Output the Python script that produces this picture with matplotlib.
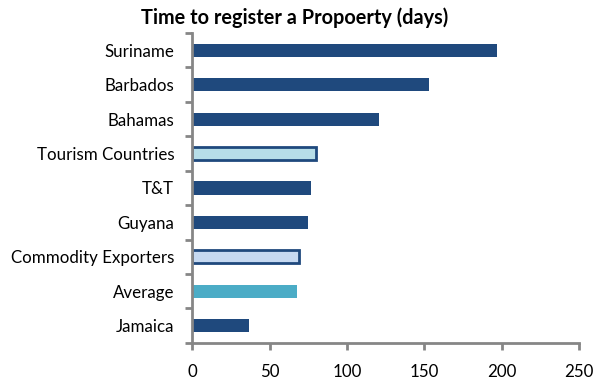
import matplotlib.pyplot as plt
import numpy as np

countries = ["Suriname", "Barbados", "Bahamas", "Tourism Countries", "T&T",
             "Guyana", "Commodity Exporters", "Average", "Jamaica"]
days = [197, 153, 121, 80, 77, 75, 69, 68, 37]

dark = "#1F497D"
fills = [dark, dark, dark, "#B7DEE8", dark, dark, "#C6D9F1", "#4BACC6", dark]
edges = [dark, dark, dark, dark, dark, dark, dark, "#4BACC6", dark]
edge_w = [0, 0, 0, 2, 0, 0, 2, 0, 0]

plt.rcParams['font.family'] = ['Lato', 'DejaVu Sans']

fig = plt.figure(figsize=(5.95, 3.84), dpi=100)
ax = fig.add_axes([0.323, 0.107, 0.65, 0.807])

y = np.arange(len(countries))[::-1]
for yi, v, fc, ec, lw in zip(y, days, fills, edges, edge_w):
    ax.barh(yi, v, height=0.38, color=fc, edgecolor=ec, linewidth=lw)

ax.set_xlim(0, 250)
ax.set_ylim(-0.5, len(countries) - 0.5)
ax.set_xticks(range(0, 251, 50))
ax.set_yticks(y)
ax.set_yticklabels(countries)
ax.set_yticks(np.arange(-0.5, len(countries), 1), minor=True)

for side in ["top", "right"]:
    ax.spines[side].set_visible(False)
for side in ["left", "bottom"]:
    ax.spines[side].set_color("#868686")
    ax.spines[side].set_linewidth(2)

ax.tick_params(axis="y", which="major", length=0, pad=13, labelsize=12.2)
ax.tick_params(axis="y", which="minor", length=5, width=2, color="#868686")
ax.tick_params(axis="x", length=5, width=2, color="#868686", pad=10, labelsize=12.2)

fig.text(0.495, 0.955, "Time to register a Propoerty (days)", ha="center",
         va="center", fontsize=14.3, fontweight="bold")

fig.savefig("out.png", dpi=100)
